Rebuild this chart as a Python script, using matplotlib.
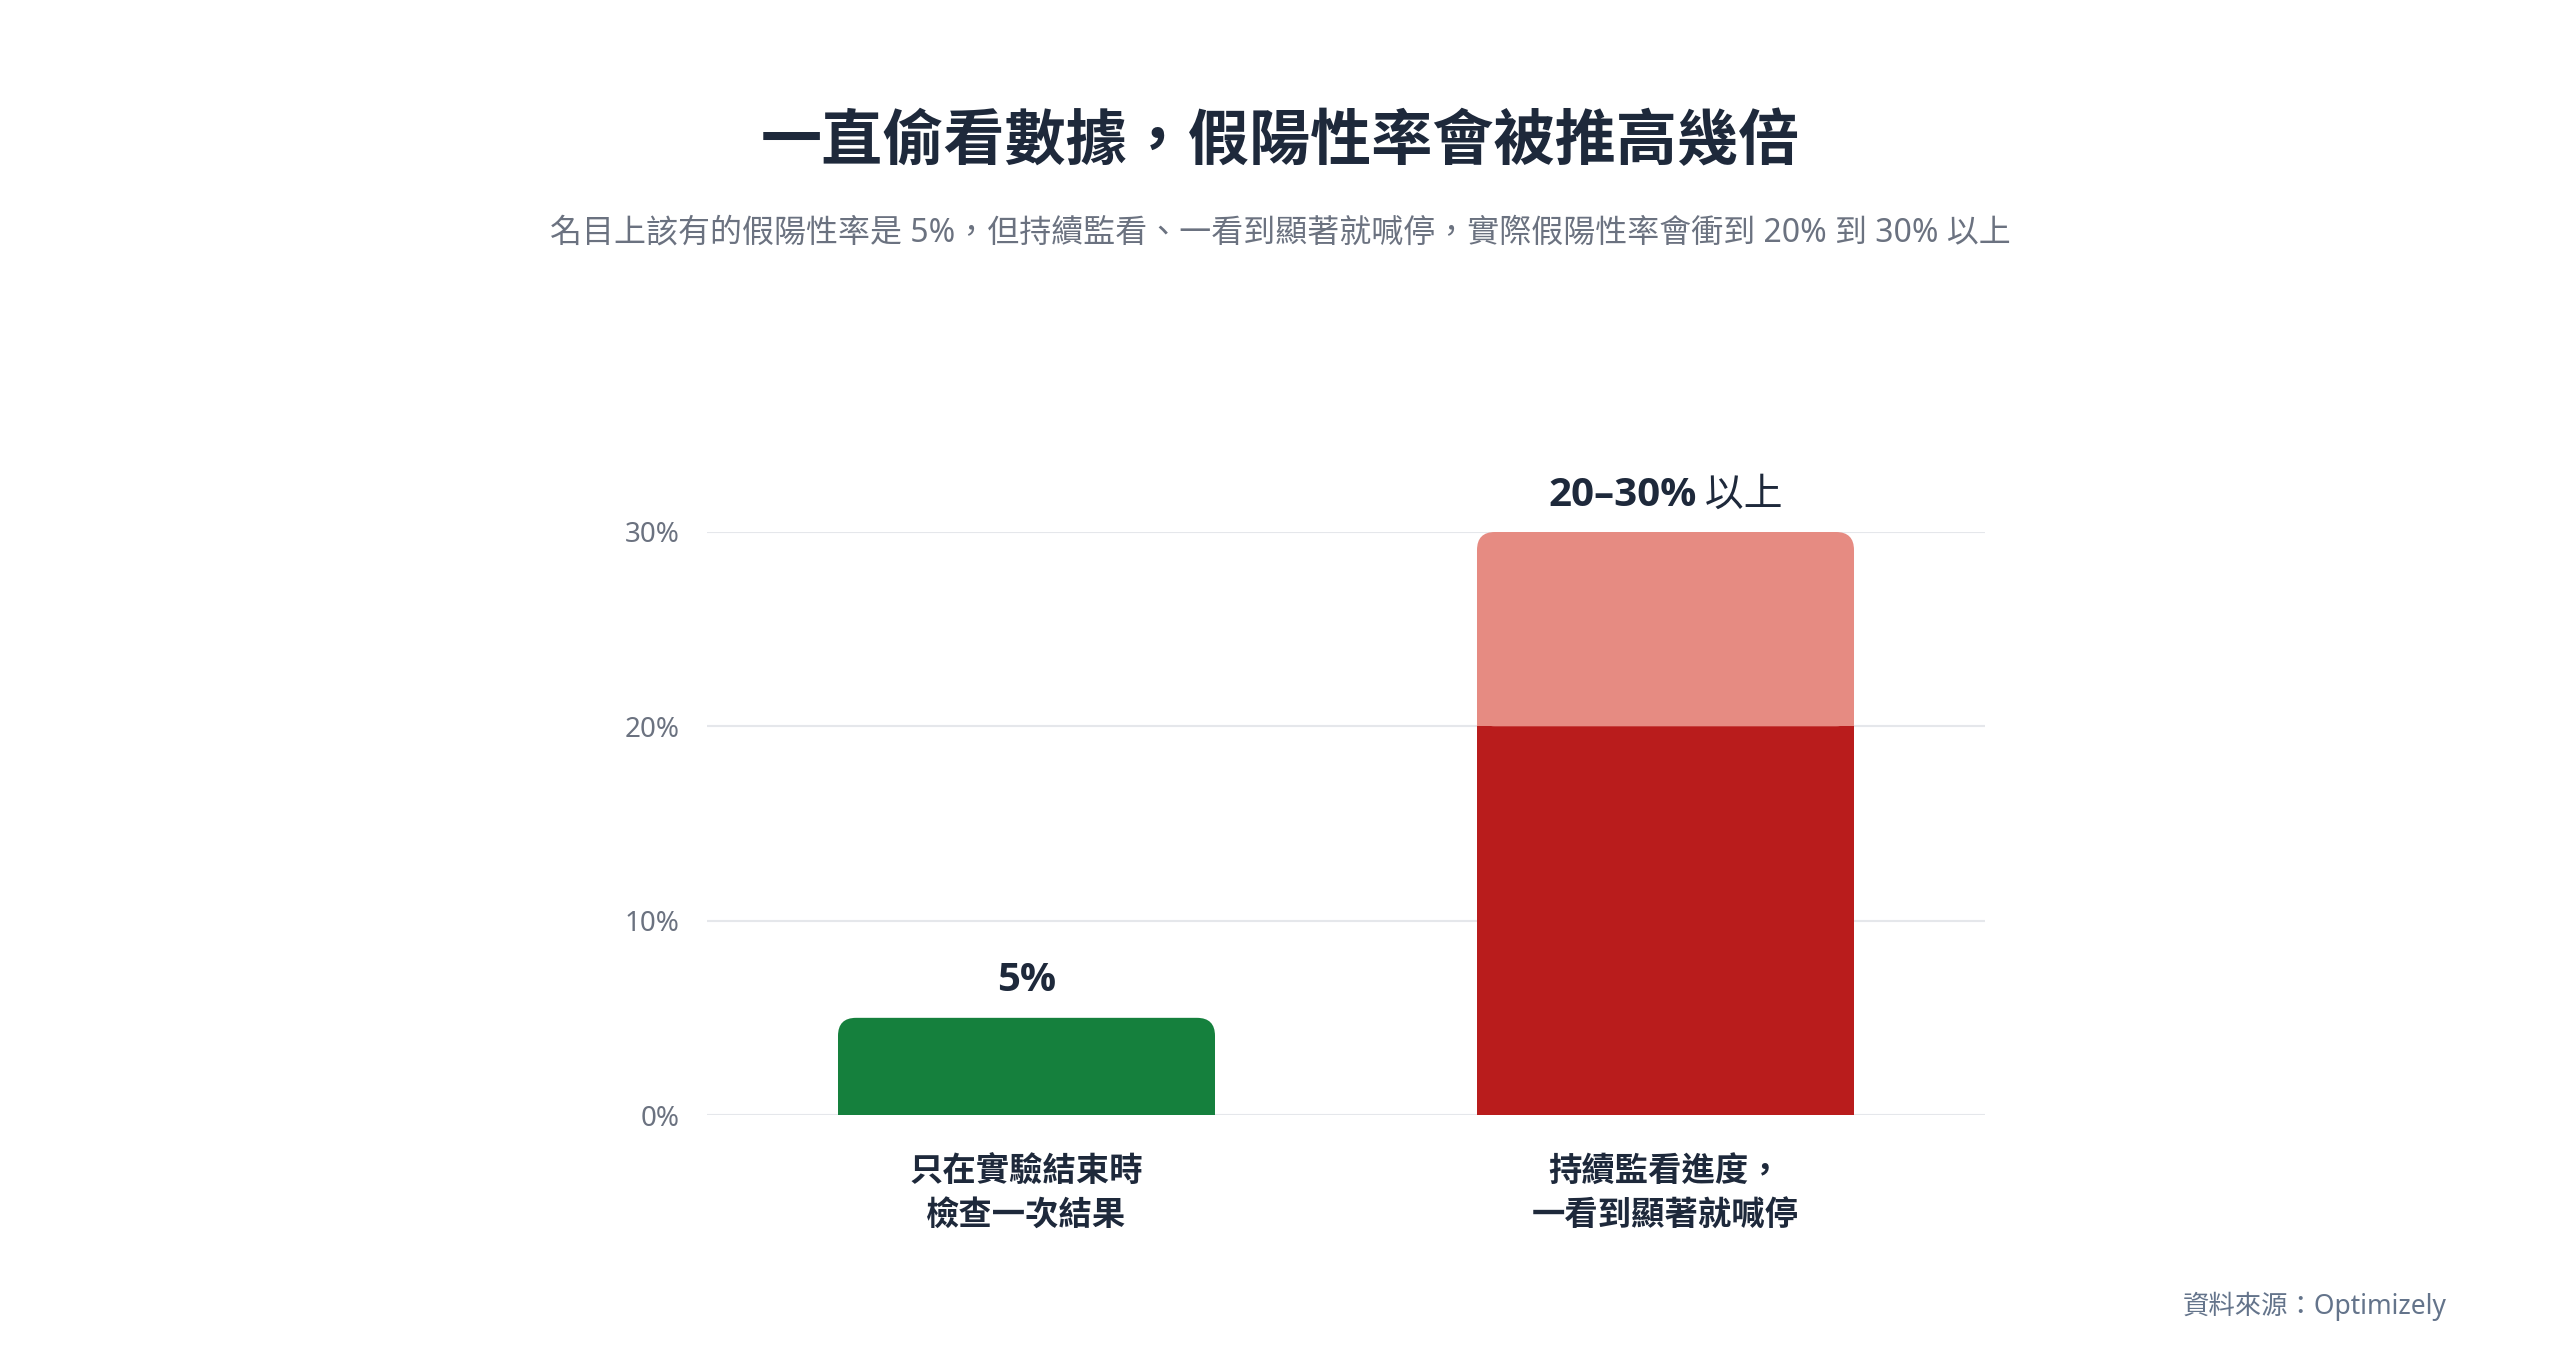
import matplotlib
matplotlib.use("Agg")
import matplotlib.pyplot as plt
from matplotlib.patches import FancyBboxPatch, Rectangle
from matplotlib.offsetbox import TextArea, HPacker, AnnotationBbox

plt.rcParams['font.family'] = ['Noto Sans', 'Noto Sans CJK TC', 'DejaVu Sans']

# data
categories = ['只在實驗結束時\n檢查一次結果', '持續監看進度，\n一看到顯著就喊停']
base_values = [5, 20]       # solid part
extra_values = [0, 10]      # range on top (20 -> 30)
value_labels = ['5%', '20–30%']
label_suffix = ['', ' 以上']
yticks = [0, 10, 20, 30]

title = '一直偷看數據，假陽性率會被推高幾倍'
subtitle = '名目上該有的假陽性率是 5%，但持續監看、一看到顯著就喊停，實際假陽性率會衝到 20% 到 30% 以上'
source = '資料來源：Optimizely'

green = '#15803d'
red = '#b91c1c'
red_light = '#e68b82'
ink = '#1e293b'
gray = '#6b7280'

W, H = 2560, 1346
fig = plt.figure(figsize=(W / 100, H / 100), dpi=100)
ax = fig.add_axes([707 / W, 1 - 1115 / H, (1985 - 707) / W, (1115 - 532) / H])
ax.set_xlim(-0.5, 1.5)
ax.set_ylim(0, 30)

# grid
for t in yticks:
    ax.axhline(t, color='#e5e7eb', lw=1.5, zorder=0)
for s in ax.spines.values():
    s.set_visible(False)
ax.set_yticks(yticks)
ax.set_yticklabels([f'{t}%' for t in yticks], fontsize=20, color=gray)
ax.tick_params(axis='y', length=0, pad=20)
ax.set_xticks([])

bar_w = 0.59
r_px = 18
px_x = (1985 - 707) / 2.0
px_y = (1115 - 532) / 30.0
rx = r_px / px_x
ry = r_px / px_y


def rounded_top(x0, y0, w, h, color):
    # rounded top corners, square bottom
    p = FancyBboxPatch((x0, y0), w, h, boxstyle=f'round,pad=0,rounding_size={rx}',
                       mutation_aspect=ry / rx, fc=color, ec='none', zorder=2)
    ax.add_patch(p)
    ax.add_patch(Rectangle((x0, y0), w, h - ry, fc=color, ec='none', zorder=2))


for i, cat in enumerate(categories):
    x0 = i - bar_w / 2
    b = base_values[i]
    e = extra_values[i]
    if e > 0:
        ax.add_patch(Rectangle((x0, 0), bar_w, b, fc=red, ec='none', zorder=2))
        rounded_top(x0, b, bar_w, e, red_light)
    else:
        rounded_top(x0, 0, bar_w, b, green)
    top = b + e
    parts = [TextArea(value_labels[i], textprops=dict(
        fontsize=29, fontweight='bold', color=ink,
        family=['Open Sans', 'Noto Sans CJK TC']))]
    if label_suffix[i]:
        parts.append(TextArea(label_suffix[i], textprops=dict(
            fontsize=28, color=ink, family=['Noto Sans CJK TC'])))
    box = HPacker(children=parts, pad=0, sep=0, align='baseline')
    ab = AnnotationBbox(box, (i, top), xybox=(0, 37 * 72 / 100), xycoords='data',
                        boxcoords='offset points', box_alignment=(0.5, 0.5),
                        frameon=False, annotation_clip=False)
    ax.add_artist(ab)
    ax.text(i, -2.15, cat, ha='center', va='top', fontsize=24, fontweight='bold',
            color=ink, linespacing=1.45, clip_on=False)

fig.text(0.5, 1 - 145 / H, title, ha='center', va='center', fontsize=44,
         fontweight='black', color=ink)
fig.text(0.5, 1 - 233 / H, subtitle, ha='center', va='center', fontsize=23, color=gray)
fig.text(2447 / W, 1 - 1306 / H, source, ha='right', va='center', fontsize=19, color='#64748b')

fig.savefig('out.png', dpi=100, facecolor='white')
